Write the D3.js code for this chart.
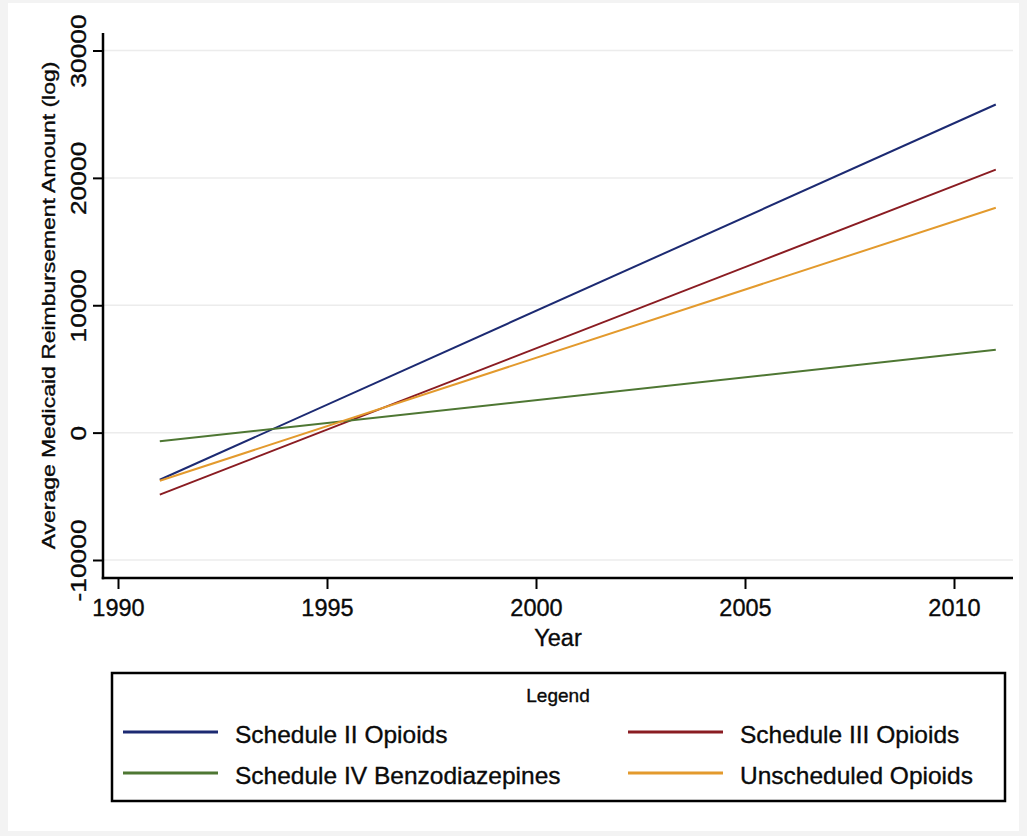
<!DOCTYPE html>
<html>
<head>
<meta charset="utf-8">
<script src="https://cdn.jsdelivr.net/npm/d3@7"></script>
<style>
  html, body { margin: 0; padding: 0; background: #ffffff; }
  svg { display: block; }
  text { font-family: "Liberation Sans", Arial, Helvetica, sans-serif; fill: #0a0a0a; stroke: #0a0a0a; stroke-width: 0.35px; }
</style>
</head>
<body>
<svg id="chart" width="1027" height="836"></svg>
<script>
// ---- data ----
const years = [1991, 2011];
const scheduleII = [-3700, 25760];
const scheduleIII = [-4870, 20650];
const scheduleIV = [-680, 6500];
const unscheduled = [-3780, 17660];

const seriesNames = ["Schedule II Opioids", "Schedule III Opioids", "Schedule IV Benzodiazepines", "Unscheduled Opioids"];
const seriesColors = ["#1c2a72", "#8a1c22", "#4e7733", "#e39a2d"];
const seriesValues = [scheduleII, scheduleIII, scheduleIV, unscheduled];

const xTicks = [1990, 1995, 2000, 2005, 2010];
const yTicks = [-10000, 0, 10000, 20000, 30000];
const yTickLabels = ["-10000", "0", "10000", "20000", "30000"];

const xTitle = "Year";
const yTitle = "Average Medicaid Reimbursement Amount (log)";
const legendTitle = "Legend";

// ---- layout ----
const svg = d3.select("#chart");
const W = 1027, H = 836;

svg.append("rect").attr("width", W).attr("height", H).attr("fill", "#f3f3f3");
svg.append("rect").attr("x", 8).attr("y", 3).attr("width", W - 16).attr("height", H - 8).attr("fill", "#ffffff");

const axisX = 103, axisY = 578, axisTop = 33, axisRight = 1013;

const x = d3.scaleLinear().domain([1990, 2010]).range([118, 954]);
const y = d3.scaleLinear().domain([-10000, 30000]).range([560, 50.5]);

// gridlines
svg.append("g").selectAll("line").data(yTicks).join("line")
  .attr("x1", axisX).attr("x2", axisRight)
  .attr("y1", d => y(d)).attr("y2", d => y(d))
  .attr("stroke", "#ececec").attr("stroke-width", 1.5);

// y axis
const gy = svg.append("g").attr("transform", `translate(${axisX},0)`)
  .call(d3.axisLeft(y).tickValues(yTicks).tickSize(10)
    .tickFormat((d, i) => yTickLabels[i]));
gy.select(".domain").remove();
gy.selectAll(".tick line").attr("stroke", "#000").attr("stroke-width", 2);
gy.selectAll(".tick text")
  .attr("x", null).attr("dy", null)
  .attr("text-anchor", "middle")
  .attr("fill", null)
  .attr("transform", "translate(-17,0) rotate(-90) scale(1.2,1)")
  .style("font-size", "22px");

// x axis
const gx = svg.append("g").attr("transform", `translate(0,${axisY})`)
  .call(d3.axisBottom(x).tickValues(xTicks).tickSize(11).tickFormat(d => String(d)));
gx.select(".domain").remove();
gx.selectAll(".tick line").attr("stroke", "#000").attr("stroke-width", 2);
gx.selectAll(".tick text")
  .attr("y", 38).attr("dy", null).attr("fill", null)
  .style("font-size", "23.5px");
svg.selectAll(".tick text").attr("font-family", null).attr("font-size", null);

// axis lines
svg.append("line").attr("x1", axisX).attr("x2", axisX).attr("y1", axisTop).attr("y2", axisY + 1.25)
  .attr("stroke", "#000").attr("stroke-width", 2.5);
svg.append("line").attr("x1", axisX - 1.25).attr("x2", axisRight).attr("y1", axisY).attr("y2", axisY)
  .attr("stroke", "#000").attr("stroke-width", 2.5);

// axis titles
svg.append("text").attr("x", 558).attr("y", 646).attr("text-anchor", "middle")
  .style("font-size", "23.5px").text(xTitle);
svg.append("text").attr("text-anchor", "middle")
  .attr("transform", `translate(55,${(axisTop + axisY) / 2}) rotate(-90) scale(1.24,1)`)
  .style("font-size", "18.5px").text(yTitle);

// lines
const line = d3.line().x((d, i) => x(years[i])).y(d => y(d));
svg.append("g").selectAll("path").data(seriesValues).join("path")
  .attr("d", d => line(d))
  .attr("fill", "none")
  .attr("stroke", (d, i) => seriesColors[i])
  .attr("stroke-width", 2);

// legend
const lg = svg.append("g");
lg.append("rect").attr("x", 112).attr("y", 673).attr("width", 893).attr("height", 128)
  .attr("fill", "#fff").attr("stroke", "#000").attr("stroke-width", 2.5);
lg.append("text").attr("x", 558).attr("y", 702).attr("text-anchor", "middle")
  .style("font-size", "19px").text(legendTitle);
const colX = [123, 628];
const rowY = [732, 773];
seriesNames.forEach((name, i) => {
  const cx = colX[i % 2], cy = rowY[Math.floor(i / 2)];
  lg.append("line").attr("x1", cx).attr("x2", cx + 95).attr("y1", cy).attr("y2", cy)
    .attr("stroke", seriesColors[i]).attr("stroke-width", 3);
  lg.append("text").attr("x", cx + 112).attr("y", cy + 11)
    .style("font-size", "24.5px").text(name);
});
</script>
</body>
</html>
